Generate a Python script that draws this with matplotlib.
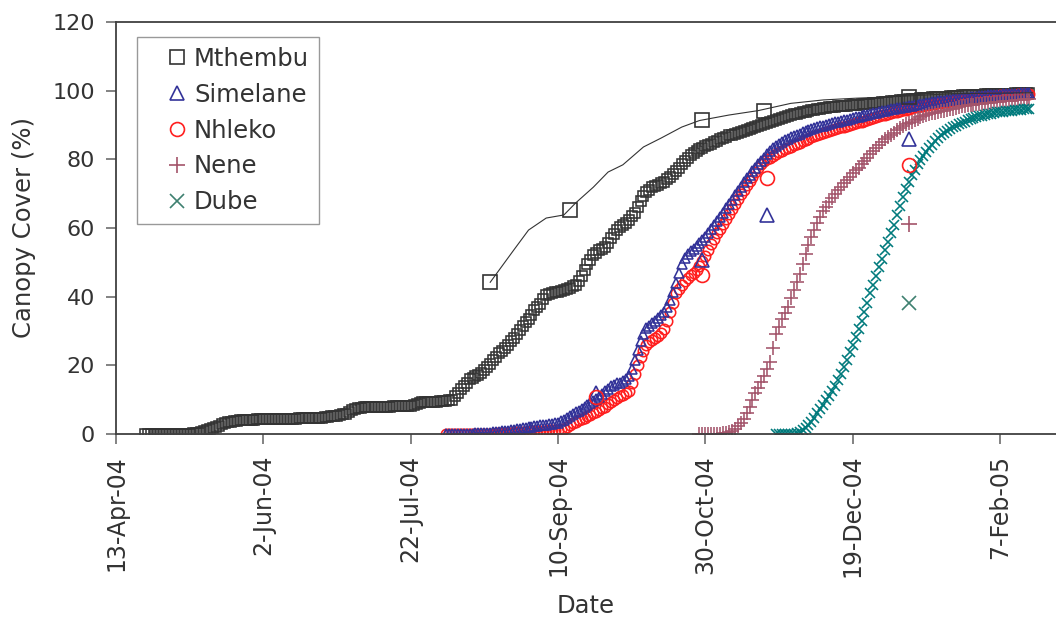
import pandas as pd
import matplotlib
matplotlib.use('Agg')
import matplotlib.pyplot as plt

plt.rcParams['font.family'] = ['DejaVu Sans']

# simulated canopy cover (%), one value per day from the start date
mthembu_start = '2004-04-23'
mthembu_sim = [
    0, 0, 0, 0, 0, 0, 0, 0, 0, 0, 0, 0, 0, 0, 0.1, 0.1, 0.2, 0.3, 0.4, 0.6,
    0.8, 1.1, 1.4, 1.7, 2.1, 2.4, 2.8, 3.1, 3.4, 3.6, 3.8, 3.9, 4.0, 4.1, 4.2, 4.2, 4.2, 4.2, 4.3, 4.3,
    4.3, 4.3, 4.3, 4.3, 4.4, 4.4, 4.4, 4.4, 4.5, 4.5, 4.5, 4.5, 4.6, 4.6, 4.6, 4.6, 4.7, 4.7, 4.8, 4.8,
    4.8, 4.9, 5.0, 5.1, 5.2, 5.3, 5.5, 5.7, 5.9, 6.4, 7.0, 7.3, 7.6, 7.7, 7.8, 7.8, 7.9, 7.9, 8.0, 8.0,
    8.0, 8.0, 8.0, 8.0, 8.1, 8.1, 8.1, 8.1, 8.2, 8.2, 8.2, 8.5, 8.8, 9.0, 9.2, 9.2, 9.3, 9.3, 9.4, 9.4,
    9.5, 9.5, 9.6, 9.8, 10.0, 11.0, 12.0, 13.0, 14.0, 15.0, 16.0, 16.4, 16.8, 17.3, 17.8, 18.6, 19.5, 20.5, 21.5, 22.5,
    23.5, 24.2, 25.0, 26.0, 27.0, 28.0, 29.0, 30.2, 31.5, 32.5, 33.5, 34.8, 36.0, 37.0, 38.0, 39.2, 40.5, 40.9, 41.2, 41.4,
    41.5, 41.6, 41.8, 42.1, 42.5, 43.0, 43.5, 44.7, 46.0, 47.7, 49.5, 50.8, 52.0, 52.8, 53.5, 54.0, 54.5, 55.7, 57.0, 58.2,
    59.5, 60.2, 61.0, 61.6, 62.3, 63.4, 64.5, 66.2, 68.0, 69.2, 70.5, 71.2, 71.8, 72.2, 72.6, 73.0, 73.5, 74.2, 75.0, 75.8,
    76.7, 77.6, 78.5, 79.5, 80.5, 81.2, 81.8, 82.4, 83.0, 83.4, 83.8, 84.2, 84.6, 85.0, 85.3, 85.8, 86.2, 86.6, 87.0, 87.2,
    87.5, 87.8, 88.0, 88.3, 88.6, 88.9, 89.1, 89.4, 89.6, 89.9, 90.2, 90.5, 90.8, 91.2, 91.5, 91.8, 92.1, 92.4, 92.7, 92.9,
    93.1, 93.3, 93.5, 93.7, 93.9, 94.1, 94.3, 94.5, 94.6, 94.8, 94.9, 95.0, 95.1, 95.2, 95.3, 95.4, 95.4, 95.5, 95.6, 95.7,
    95.7, 95.8, 95.9, 96.0, 96.0, 96.1, 96.2, 96.3, 96.4, 96.5, 96.6, 96.7, 96.8, 96.9, 97.0, 97.1, 97.2, 97.3, 97.4, 97.5,
    97.6, 97.7, 97.7, 97.8, 97.9, 98.0, 98.0, 98.1, 98.1, 98.2, 98.2, 98.3, 98.3, 98.4, 98.4, 98.5, 98.5, 98.6, 98.6, 98.7,
    98.7, 98.8, 98.8, 98.8, 98.8, 98.9, 98.9, 99.0, 99.0, 99.0, 99.0, 99.1, 99.1, 99.1, 99.1, 99.2, 99.2, 99.2, 99.2, 99.3,
    99.3]

simelane_start = '2004-08-03'
simelane_sim = [
    0, 0, 0, 0, 0, 0, 0.1, 0.1, 0.1, 0.1, 0.2, 0.2, 0.3, 0.3, 0.4, 0.4, 0.5, 0.6, 0.7, 0.8,
    0.9, 1.0, 1.1, 1.2, 1.4, 1.5, 1.7, 1.8, 2.0, 2.1, 2.3, 2.4, 2.5, 2.6, 2.7, 2.8, 2.9, 3.1, 3.3, 3.7,
    4.2, 4.7, 5.2, 5.7, 6.3, 6.8, 7.3, 7.8, 8.4, 9.0, 9.6, 10.2, 10.8, 11.6, 12.5, 13.2, 14.0, 14.4, 14.8, 15.0,
    15.3, 16.0, 17.0, 19.0, 21.5, 24.5, 27.0, 29.2, 31.0, 31.6, 32.2, 33.0, 33.8, 34.6, 35.5, 37.0, 39.0, 41.5, 44.0, 46.8,
    49.5, 51.2, 52.5, 53.3, 54.0, 54.7, 55.5, 56.5, 57.5, 58.5, 59.6, 60.8, 62.0, 63.2, 64.4, 65.7, 67.0, 68.2, 69.5, 70.8,
    72.0, 73.3, 74.5, 75.5, 76.5, 77.5, 78.5, 79.5, 80.5, 81.5, 82.5, 83.3, 84.0, 84.5, 85.0, 85.5, 86.0, 86.4, 86.8, 87.2,
    87.5, 87.9, 88.2, 88.5, 88.8, 89.1, 89.3, 89.6, 89.8, 90.1, 90.3, 90.6, 90.8, 91.0, 91.2, 91.4, 91.6, 91.8, 92.0, 92.2,
    92.4, 92.6, 92.8, 93.0, 93.2, 93.4, 93.6, 93.8, 94.0, 94.2, 94.4, 94.6, 94.7, 94.9, 95.0, 95.2, 95.3, 95.5, 95.6, 95.8,
    95.9, 96.1, 96.2, 96.4, 96.5, 96.7, 96.8, 96.9, 97.0, 97.1, 97.2, 97.4, 97.5, 97.6, 97.7, 97.8, 97.9, 98.0, 98.1, 98.2,
    98.3, 98.4, 98.4, 98.5, 98.6, 98.7, 98.7, 98.8, 98.8, 98.9, 98.9, 99.0, 99.0, 99.1, 99.1, 99.2, 99.2, 99.3, 99.3]

nhleko_start = '2004-08-03'
nhleko_sim = [
    0, 0, 0, 0, 0, 0, 0, 0, 0, 0, 0, 0, 0, 0.1, 0.1, 0.1, 0.1, 0.2, 0.2, 0.3,
    0.3, 0.4, 0.4, 0.5, 0.5, 0.6, 0.6, 0.7, 0.7, 0.8, 0.8, 0.9, 0.9, 1.0, 1.0, 1.1, 1.1, 1.2, 1.2, 1.4,
    1.6, 2.1, 2.6, 3.1, 3.6, 4.0, 4.5, 4.8, 5.2, 5.6, 6.0, 6.5, 7.0, 7.5, 8.0, 8.6, 9.2, 9.8, 10.4, 11.0,
    11.5, 12.0, 12.5, 15.0, 17.5, 20.0, 22.5, 24.2, 26.0, 26.8, 27.5, 28.0, 28.5, 29.5, 30.5, 33.0, 35.5, 38.2, 41.0, 42.2,
    43.5, 44.5, 45.5, 46.2, 47.0, 47.9, 48.8, 50.3, 51.8, 53.5, 55.3, 56.8, 58.4, 59.8, 61.3, 62.6, 64.0, 65.5, 67.0, 68.5,
    70.0, 71.2, 72.5, 73.8, 75.0, 76.2, 77.5, 78.5, 79.5, 80.0, 80.5, 81.0, 81.6, 82.0, 82.5, 82.9, 83.3, 83.7, 84.1, 84.5,
    84.9, 85.3, 85.7, 86.0, 86.4, 86.7, 87.0, 87.3, 87.6, 87.9, 88.2, 88.5, 88.8, 89.0, 89.3, 89.5, 89.8, 90.0, 90.3, 90.5,
    90.8, 91.0, 91.3, 91.5, 91.8, 92.0, 92.3, 92.5, 92.8, 93.0, 93.3, 93.5, 93.7, 93.9, 94.1, 94.3, 94.5, 94.7, 94.9, 95.1,
    95.3, 95.4, 95.6, 95.7, 95.9, 96.0, 96.2, 96.3, 96.5, 96.6, 96.8, 96.9, 97.1, 97.2, 97.3, 97.4, 97.5, 97.6, 97.7, 97.8,
    97.9, 98.0, 98.1, 98.2, 98.3, 98.3, 98.4, 98.5, 98.6, 98.6, 98.7, 98.7, 98.8, 98.8, 98.9, 98.9, 99.0, 99.0, 99.1]

nene_start = '2004-10-28'
nene_sim = [
    0, 0, 0, 0, 0, 0, 0, 0.1, 0.2, 0.3, 0.5, 0.9, 1.5, 2.3, 3.2, 4.5, 6.0, 8.0, 10.0, 11.8,
    13.5, 15.2, 17.0, 19.0, 21.0, 25.0, 29.0, 31.2, 33.5, 35.2, 37.0, 39.5, 42.0, 44.2, 46.5, 49.5, 52.5, 55.0, 57.5, 59.5,
    61.5, 63.2, 65.0, 66.2, 67.5, 68.8, 70.0, 71.0, 72.0, 73.0, 74.0, 75.0, 76.0, 76.8, 77.5, 78.5, 79.5, 80.5, 81.5, 82.4,
    83.3, 84.2, 85.0, 85.8, 86.5, 87.2, 87.8, 88.4, 89.0, 89.6, 90.2, 90.6, 91.0, 91.4, 91.8, 92.2, 92.5, 92.8, 93.1, 93.4,
    93.6, 93.8, 94.0, 94.2, 94.4, 94.6, 94.8, 95.0, 95.2, 95.4, 95.5, 95.7, 95.8, 95.9, 96.0, 96.1, 96.2, 96.3, 96.4, 96.5,
    96.6, 96.7, 96.8, 96.9, 97.0, 97.0, 97.1, 97.2, 97.3, 97.4, 97.5, 97.5, 97.6]

dube_start = '2004-11-23'
dube_sim = [
    0, 0, 0, 0, 0, 0, 0, 0.2, 0.5, 1.1, 1.8, 2.7, 3.6, 4.8, 6.0, 7.2, 8.5, 9.8, 11.0, 12.5,
    14.0, 15.8, 17.5, 19.5, 21.5, 23.8, 26.0, 28.2, 30.5, 33.0, 35.5, 38.2, 41.0, 43.5, 46.0, 48.5, 51.0, 53.5, 56.0, 58.5,
    61.0, 63.8, 66.5, 69.0, 71.5, 73.5, 75.5, 77.0, 78.5, 79.8, 81.0, 82.1, 83.2, 84.2, 85.2, 86.1, 87.0, 87.7, 88.3, 88.8,
    89.3, 89.8, 90.2, 90.6, 91.0, 91.4, 91.7, 92.0, 92.2, 92.5, 92.7, 92.9, 93.1, 93.3, 93.5, 93.7, 93.8, 93.9, 94.0, 94.1,
    94.2, 94.3, 94.4, 94.5, 94.6, 94.7, 94.7]

# thin line for Mthembu (no legend entry)
line_dates = ['2004-08-18', '2004-08-26', '2004-08-31', '2004-09-06', '2004-09-12',
              '2004-09-16', '2004-09-22', '2004-09-27', '2004-10-02', '2004-10-09',
              '2004-10-15', '2004-10-22', '2004-10-28', '2004-11-07', '2004-11-17',
              '2004-11-28', '2004-12-09', '2004-12-20', '2005-01-01', '2005-01-21',
              '2005-02-18']
line_vals = [44.2, 53.6, 59.4, 62.9, 63.8, 67.3, 71.9, 76.3, 78.4, 83.6,
             86.2, 89.4, 91.3, 92.9, 94.2, 96.3, 97.3, 97.8, 98.2, 99.1, 99.4]

# observed values
mthembu_obs_dates = ['2004-08-18', '2004-09-14', '2004-10-29', '2004-11-19', '2005-01-07']
mthembu_obs = [44.2, 65.2, 91.5, 94.1, 98.2]
sn_obs_dates = ['2004-09-23', '2004-10-29', '2004-11-20', '2005-01-07']
simelane_obs = [12.0, 50.7, 63.8, 85.9]
nhleko_obs = [10.8, 46.3, 74.6, 78.4]
nd_obs_dates = ['2005-01-07']
nene_obs = [61.2]
dube_obs = [38.2]

x_ticks = pd.date_range('2004-04-13', periods=7, freq='50D')

c_mth = '#333333'
c_sim = '#333399'
c_nhl = '#FF1F1F'
c_nene = '#A3546A'
c_dube = '#007A7C'
c_dube_obs = '#3E8070'
txt = '#333333'


def sim_dates(start, vals):
    return pd.date_range(start, periods=len(vals), freq='D')


fig = plt.figure(figsize=(10.56, 6.24), dpi=100)
ax = fig.add_axes([116 / 1056, 1 - 434 / 624, 1 - 116 / 1056, (434 - 22) / 624])

sk = dict(linestyle='none', markerfacecolor='none', markeredgewidth=1.15)
ax.plot(sim_dates(mthembu_start, mthembu_sim), mthembu_sim, marker='s', ms=7,
        markeredgecolor=c_mth, **sk)
ax.plot(sim_dates(nhleko_start, nhleko_sim), nhleko_sim, marker='o', ms=7.5,
        markeredgecolor=c_nhl, **sk)
ax.plot(sim_dates(simelane_start, simelane_sim), simelane_sim, marker='^', ms=7.5,
        markeredgecolor=c_sim, **sk)
ax.plot(sim_dates(nene_start, nene_sim), nene_sim, marker='+', ms=10,
        markeredgecolor=c_nene, **sk)
ax.plot(sim_dates(dube_start, dube_sim), dube_sim, marker='x', ms=7.5,
        markeredgecolor=c_dube, **sk)

ax.plot(pd.to_datetime(line_dates), line_vals, color=c_mth, lw=0.8)

ok = dict(linestyle='none', markerfacecolor='none', markeredgewidth=1.2)
ax.plot(pd.to_datetime(mthembu_obs_dates), mthembu_obs, marker='s', ms=9.5,
        markeredgecolor=c_mth, label='Mthembu', **ok)
ax.plot(pd.to_datetime(sn_obs_dates), simelane_obs, marker='^', ms=10,
        markeredgecolor=c_sim, label='Simelane', **ok)
ax.plot(pd.to_datetime(sn_obs_dates), nhleko_obs, marker='o', ms=10,
        markeredgecolor=c_nhl, label='Nhleko', **ok)
ax.plot(pd.to_datetime(nd_obs_dates), nene_obs, marker='+', ms=11,
        markeredgecolor=c_nene, label='Nene', **ok)
ax.plot(pd.to_datetime(nd_obs_dates), dube_obs, marker='x', ms=10,
        markeredgecolor=c_dube_obs, label='Dube', **ok)

ax.set_ylim(0, 120)
ax.set_yticks(range(0, 121, 20))
ax.set_xlim(pd.Timestamp('2004-04-13'), pd.Timestamp('2004-04-13') + pd.Timedelta(days=319))
ax.set_xticks(x_ticks)
ax.set_xticklabels([f"{d.day}-{d.strftime('%b-%y')}" for d in x_ticks], rotation=90)

for s in ['left', 'bottom', 'top']:
    ax.spines[s].set_color('#404040')
    ax.spines[s].set_linewidth(1.3)
ax.spines['right'].set_visible(False)
ax.tick_params(axis='both', direction='out', length=7, width=1.1, color='#606060',
               labelcolor=txt)
ax.tick_params(axis='y', pad=8, labelsize=16)
ax.tick_params(axis='x', pad=8, labelsize=17)

ax.set_xlabel('Date', fontsize=17.5, color=txt, labelpad=12)
ax.set_ylabel('Canopy Cover (%)', fontsize=17.5, color=txt, labelpad=12)

leg = ax.legend(loc='upper left', bbox_to_anchor=(21 / 940, (434 - 37) / 412),
                borderaxespad=0, fontsize=17.5, frameon=True, fancybox=False,
                handlelength=2.5, handletextpad=-0.56, labelspacing=0.49,
                borderpad=0.4, labelcolor=txt)
leg.get_frame().set_edgecolor('#808080')
leg.get_frame().set_linewidth(1.0)

fig.savefig('out.png', dpi=100)
